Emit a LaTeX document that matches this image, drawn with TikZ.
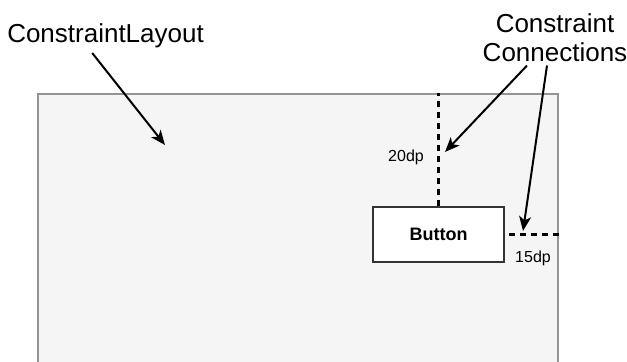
\documentclass[tikz,border=0pt]{standalone}
\usepackage{fontspec}
\setmainfont{Liberation Sans}
\usetikzlibrary{arrows.meta}

\begin{document}
\begin{tikzpicture}[x=0.75pt, y=-0.75pt]
    \tikzset{layoutbox/.style={draw=black!42, fill=black!4, line width=1.5pt, inner sep=0pt},
             buttonbox/.style={draw=black!80, fill=white, line width=1.5pt, inner sep=0pt,
                               minimum width=98pt, minimum height=41pt, font=\fontsize{13.5}{15}\selectfont\bfseries},
             guide/.style={line width=1.6pt, dash pattern=on 4.5pt off 3.75pt},
             pointer/.style={line width=1.5pt, -{Stealth[length=11pt, width=9pt, inset=3pt]}},
             caption/.style={font=\fontsize{19.5}{21.75}\selectfont, inner sep=0pt},
             dplabel/.style={font=\fontsize{12}{14}\selectfont, inner sep=0pt}}
    \useasboundingbox (0,0) rectangle (627,361);
    \clip (0,0) rectangle (627,361);

    % Parent layout and the button inside it
    \node[layoutbox, anchor=north west, minimum width=390pt, minimum height=240pt] (layout) at (37,93) {};
    \node[buttonbox] (button) at (438.5,234.5) {Button};

    % Constraints
    \draw[guide] (button.north) -- (button.north |- layout.north);
    \draw[guide] ([xshift=3pt]button.east) -- (button.east -| layout.east);
    \node[dplabel, anchor=base] (top dp) at (406,161) {20dp};
    \node[dplabel, anchor=base] (side dp) at (533,262) {15dp};

    % Captions
    \node[caption, anchor=base west] (title) at (7,42) {ConstraintLayout};
    \node[caption, align=center, anchor=base] (conn) at (555,61) {Constraint\\Connections};
    \coordinate (inside) at (165,145);
    \coordinate (top tip) at (445,152);
    \coordinate (side tip) at (523,231);

    % Arrows
    \draw[pointer] ([xshift=-10pt, yshift=-4pt]title.south) -- (inside);
    \draw[pointer] ([xshift=-21pt, yshift=-3pt]conn.south) -- (top tip);
    \draw[pointer] ([xshift=-6pt, yshift=-3pt]conn.south) -- (side tip);
\end{tikzpicture}
\end{document}
